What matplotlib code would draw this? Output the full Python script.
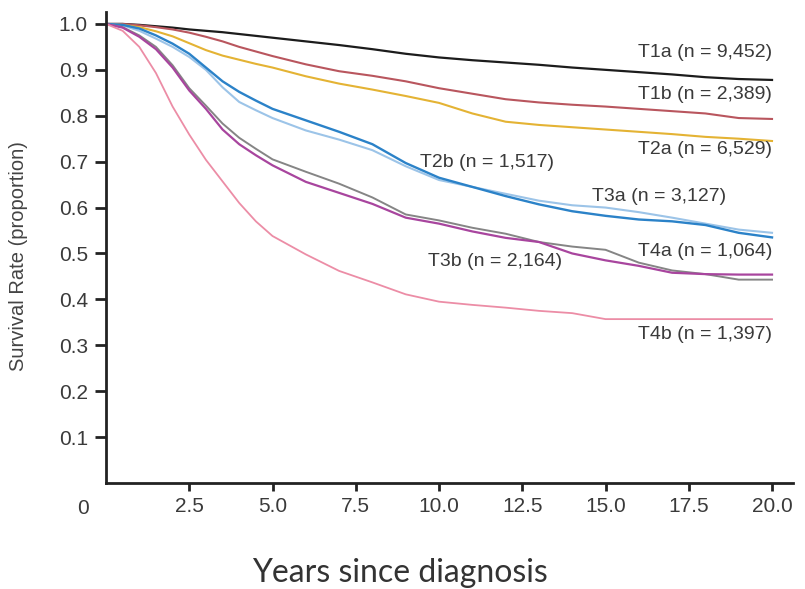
import numpy as np
from matplotlib import pyplot as plt

# 経過年数（読み取り点）
years = [0, 0.5, 1, 1.5, 2, 2.5, 3, 3.5, 4, 4.5, 5, 6, 7, 8, 9, 10,
         11, 12, 13, 14, 15, 16, 17, 18, 19, 20]

# 各ステージの生存率
t1a = [1.0, 1.0, 0.998, 0.995, 0.992, 0.988, 0.985, 0.982, 0.978, 0.974, 0.970, 0.962, 0.954,
       0.945, 0.935, 0.927, 0.921, 0.916, 0.911, 0.905, 0.900, 0.895, 0.890, 0.884, 0.880, 0.878]
t1b = [1.0, 1.0, 0.997, 0.993, 0.988, 0.981, 0.972, 0.962, 0.950, 0.940, 0.930, 0.912, 0.897,
       0.887, 0.875, 0.860, 0.848, 0.836, 0.829, 0.824, 0.820, 0.815, 0.810, 0.805, 0.795, 0.793]
t2a = [1.0, 0.998, 0.993, 0.984, 0.973, 0.958, 0.943, 0.931, 0.922, 0.913, 0.905, 0.886, 0.870,
       0.857, 0.843, 0.828, 0.805, 0.787, 0.780, 0.775, 0.770, 0.765, 0.760, 0.754, 0.750, 0.745]
t2b = [1.0, 0.998, 0.990, 0.975, 0.957, 0.935, 0.905, 0.875, 0.852, 0.833, 0.815, 0.790, 0.765,
       0.738, 0.697, 0.665, 0.645, 0.625, 0.607, 0.592, 0.582, 0.574, 0.570, 0.562, 0.545, 0.535]
t3a = [1.0, 0.997, 0.985, 0.968, 0.950, 0.928, 0.900, 0.862, 0.830, 0.812, 0.795, 0.768, 0.748,
       0.725, 0.690, 0.660, 0.645, 0.630, 0.615, 0.605, 0.600, 0.590, 0.578, 0.565, 0.552, 0.545]
t3b = [1.0, 0.992, 0.972, 0.945, 0.905, 0.855, 0.815, 0.770, 0.738, 0.714, 0.692, 0.656, 0.632,
       0.608, 0.578, 0.565, 0.548, 0.534, 0.525, 0.500, 0.485, 0.473, 0.458, 0.455, 0.454, 0.454]
t4a = [1.0, 0.993, 0.975, 0.950, 0.910, 0.860, 0.822, 0.783, 0.752, 0.728, 0.705, 0.678, 0.652,
       0.622, 0.585, 0.572, 0.556, 0.543, 0.525, 0.515, 0.508, 0.480, 0.463, 0.455, 0.443, 0.443]
t4b = [1.0, 0.985, 0.950, 0.893, 0.820, 0.759, 0.704, 0.657, 0.610, 0.570, 0.538, 0.498, 0.462,
       0.437, 0.411, 0.395, 0.388, 0.382, 0.375, 0.370, 0.357, 0.357, 0.357, 0.357, 0.357, 0.357]

series = [
    (t1a, '#1c1c1c', 1.6),
    (t1b, '#b9565e', 1.5),
    (t2a, '#e4b334', 1.5),
    (t3a, '#9cc4e8', 1.5),
    (t2b, '#2b82c8', 1.7),
    (t4a, '#858585', 1.4),
    (t3b, '#a8459e', 1.6),
    (t4b, '#ec8da6', 1.3),
]

# ラベル: (文字列, x, y, 揃え)
labels = [
    ('T1a (n = 9,452)', 20.0, 0.937, 'right'),
    ('T1b (n = 2,389)', 20.0, 0.846, 'right'),
    ('T2a (n = 6,529)', 20.0, 0.726, 'right'),
    ('T2b (n = 1,517)', 9.43, 0.698, 'left'),
    ('T3a (n = 3,127)', 14.6, 0.624, 'left'),
    ('T4a (n = 1,064)', 20.0, 0.504, 'right'),
    ('T3b (n = 2,164)', 9.67, 0.483, 'left'),
    ('T4b (n = 1,397)', 20.0, 0.324, 'right'),
]

xticks = [2.5, 5.0, 7.5, 10.0, 12.5, 15.0, 17.5, 20.0]
yticks = [0.1, 0.2, 0.3, 0.4, 0.5, 0.6, 0.7, 0.8, 0.9, 1.0]

plt.rcParams['font.family'] = ['Liberation Sans', 'DejaVu Sans']
text_color = '#3a3a3a'

fig = plt.figure(figsize=(8.05, 5.89), dpi=100)
ax = fig.add_axes([106 / 805, 1 - 483 / 589, 687 / 805, 471 / 589])

for vals, color, lw in series:
    ax.plot(years, vals, color=color, lw=lw)

for txt, x, y, ha in labels:
    ax.text(x, y, txt, ha=ha, va='center', fontsize=14, color=text_color)

ax.set_xlim(0, 20.63)
ax.set_ylim(0, 1.026)
ax.set_xticks(xticks)
ax.set_xticklabels([f'{v:.1f}' for v in xticks])
ax.set_yticks(yticks)
ax.set_yticklabels([f'{v:.1f}' for v in yticks])

for side in ['top', 'right']:
    ax.spines[side].set_visible(False)
for side in ['left', 'bottom']:
    ax.spines[side].set_linewidth(2.0)
    ax.spines[side].set_color('#222222')

ax.tick_params(axis='y', length=8, width=2, color='#222222', pad=5,
               labelsize=15, labelcolor=text_color)
ax.tick_params(axis='x', length=6, width=2, color='#222222', pad=4,
               labelsize=15, labelcolor=text_color)

# 原点の "0"
ax.annotate('0', xy=(0, 0), xycoords='data', xytext=(-16.5, -18),
            textcoords='offset points', ha='center', va='center',
            fontsize=15, color=text_color)

ax.set_ylabel('Survival Rate (proportion)', fontsize=14.5, color='#444444')
ax.yaxis.set_label_coords(-0.114, 0.482)

fig.text(400 / 805, 1 - 582 / 589, 'Years since diagnosis', ha='center',
         va='baseline', fontsize=23, color='#333333', family=['Lato', 'DejaVu Sans'])

fig.savefig('out.png', dpi=100)
